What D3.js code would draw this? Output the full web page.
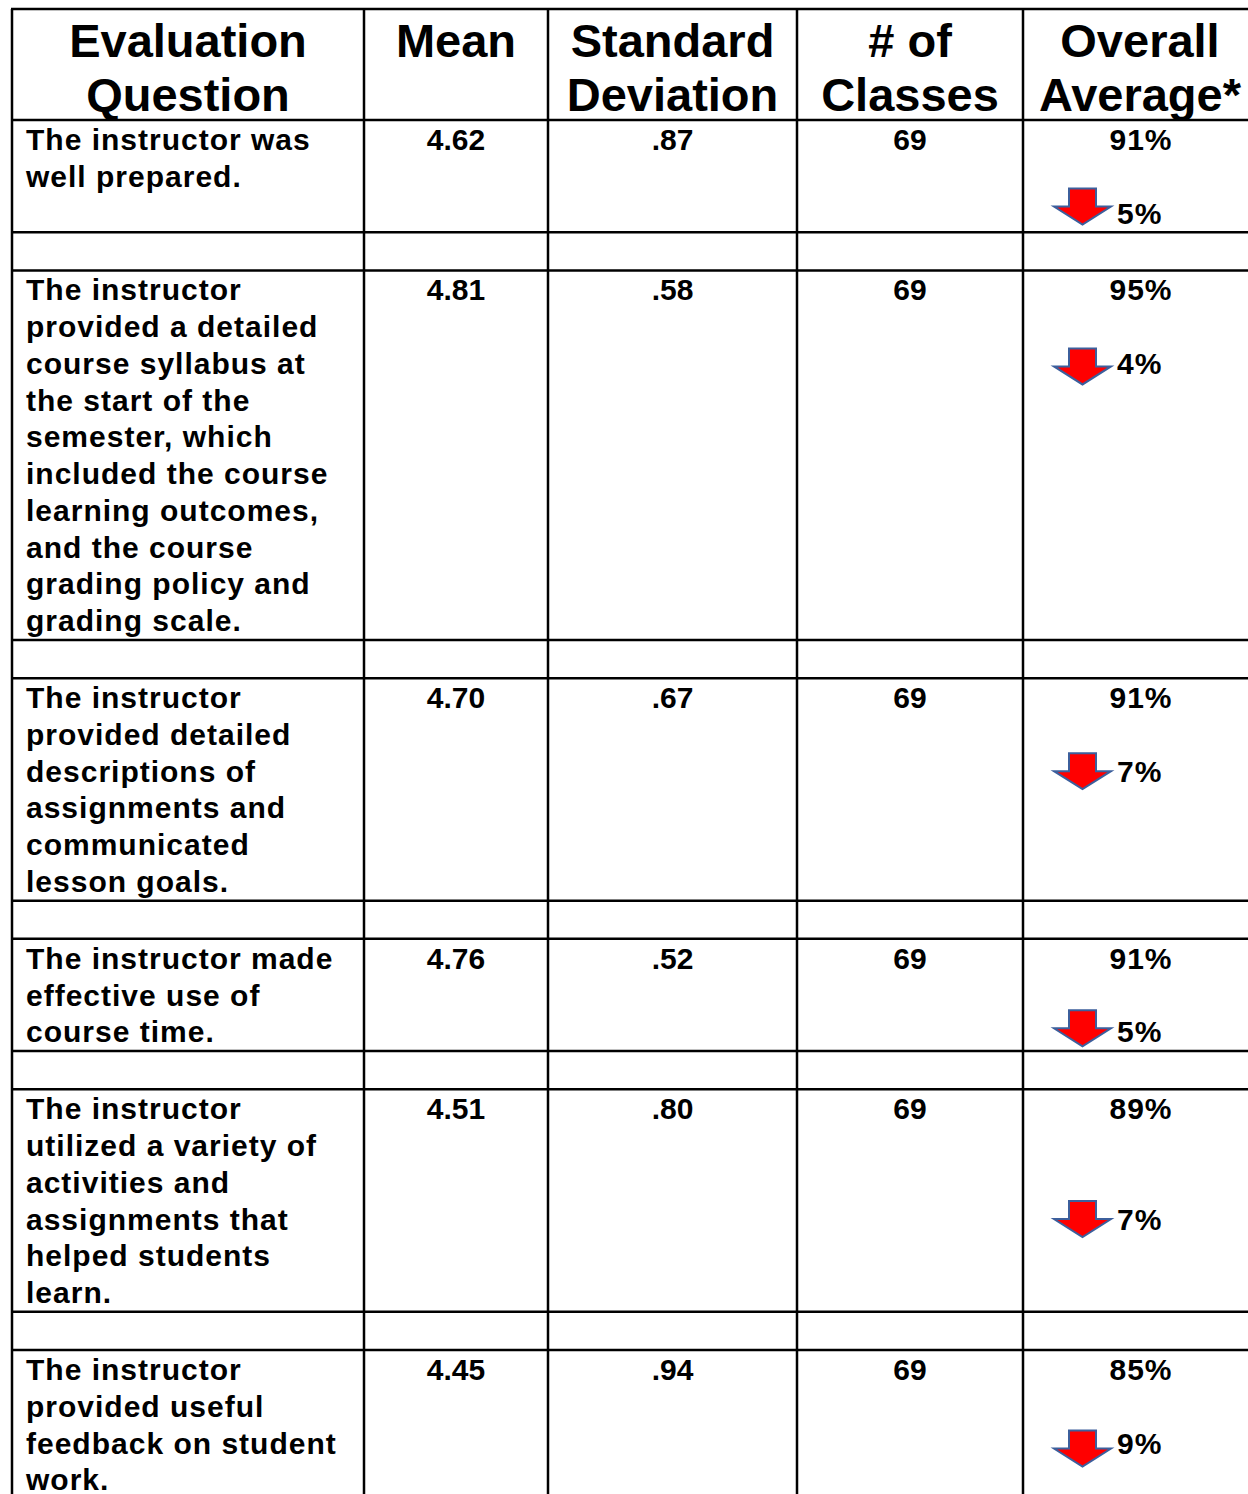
<!DOCTYPE html>
<html>
<head>
<meta charset="utf-8">
<script src="https://cdn.jsdelivr.net/npm/d3@7"></script>
<style>
  html, body { margin: 0; padding: 0; background: #fff; overflow: hidden; }
  svg { display: block; }
  text { font-family: "Liberation Sans", Arial, Helvetica, sans-serif; font-weight: bold; fill: #000; }
</style>
</head>
<body>
<script>
// ---- data ----
const headers = [
  ["Evaluation", "Question"],
  ["Mean"],
  ["Standard", "Deviation"],
  ["# of", "Classes"],
  ["Overall", "Average*"]
];
const questions = [
  ["The instructor was", "well prepared."],
  ["The instructor", "provided a detailed", "course syllabus at", "the start of the", "semester, which", "included the course", "learning outcomes,", "and the course", "grading policy and", "grading scale."],
  ["The instructor", "provided detailed", "descriptions of", "assignments and", "communicated", "lesson goals."],
  ["The instructor made", "effective use of", "course time."],
  ["The instructor", "utilized a variety of", "activities and", "assignments that", "helped students", "learn."],
  ["The instructor", "provided useful", "feedback on student", "work."]
];
const means = ["4.62", "4.81", "4.70", "4.76", "4.51", "4.45"];
const stdDevs = [".87", ".58", ".67", ".52", ".80", ".94"];
const classes = ["69", "69", "69", "69", "69", "69"];
const overall = ["91%", "95%", "91%", "91%", "89%", "85%"];
const decreases = ["5%", "4%", "7%", "5%", "7%", "9%"];

// ---- layout (not data) ----
const changeLine = [2, 2, 2, 2, 3, 2];          // line index of the arrow within the last column
const arrowShift = [-6.5, 3, 0, -3.5, 0, 5.5];   // vertical nudge of each arrow vs its text
const W = 1248, H = 1494;
const colEdges = [12, 364, 548, 797, 1023, 1257];
const tableTop = 9, headerBottom = 120;
const lineH = 36.75, rowPad = 2, spacerH = 38.2;
const bodySize = 30, headSize = 47;

const svg = d3.select("body").append("svg").attr("width", W).attr("height", H);

const colX = d3.scaleLinear().domain(d3.range(colEdges.length)).range(colEdges);
const colCenter = i => (colX(i) + colX(i + 1)) / 2;

// row geometry
const rows = [];
let y = headerBottom;
questions.forEach((q, i) => {
  const n = Math.max(q.length, changeLine[i] + 1);
  const h = n * lineH + rowPad;
  rows.push({ i, top: y, bottom: y + h });
  y += h;
  rows.push({ spacer: true, top: y, bottom: y + spacerH });
  y += spacerH;
});

const g = svg.append("g");

// header
headers.forEach((lines, c) => {
  lines.forEach((t, k) => {
    g.append("text")
      .attr("x", colCenter(c))
      .attr("y", 57 + k * 54)
      .attr("text-anchor", "middle")
      .attr("font-size", headSize)
      .text(t);
  });
});

// body
rows.filter(r => !r.spacer).forEach(r => {
  const i = r.i;
  const base = r.top + 30;
  questions[i].forEach((t, k) => {
    g.append("text").attr("x", 26).attr("y", base + k * lineH)
      .attr("font-size", bodySize).attr("letter-spacing", 1).text(t);
  });
  [means, stdDevs, classes].forEach((arr, c) => {
    g.append("text").attr("x", colCenter(c + 1)).attr("y", base)
      .attr("text-anchor", "middle").attr("font-size", bodySize).text(arr[i]);
  });
  g.append("text").attr("x", colCenter(4) + 1).attr("y", base)
    .attr("text-anchor", "middle").attr("font-size", bodySize)
    .attr("letter-spacing", 1).text(overall[i]);

  const cb = base + changeLine[i] * lineH;
  g.append("text").attr("x", 1117).attr("y", cb)
    .attr("font-size", bodySize).attr("letter-spacing", 1).text(decreases[i]);

  // down arrow
  const cy = cb - 10.5 + arrowShift[i];
  const x0 = 1054, w = 57, sh0 = 15, sh1 = 42, hh = 36;
  const t0 = cy - hh / 2;
  const path = d3.path();
  path.moveTo(x0 + sh0, t0);
  path.lineTo(x0 + sh1, t0);
  path.lineTo(x0 + sh1, t0 + hh / 2);
  path.lineTo(x0 + w, t0 + hh / 2);
  path.lineTo(x0 + w / 2, t0 + hh);
  path.lineTo(x0, t0 + hh / 2);
  path.lineTo(x0 + sh0, t0 + hh / 2);
  path.closePath();
  g.append("path").attr("d", path.toString())
    .attr("fill", "#ff0000").attr("stroke", "#3c5f9c").attr("stroke-width", 2)
    .attr("stroke-linejoin", "miter");
});

// grid lines
const hLines = [tableTop, headerBottom].concat(rows.map(r => r.bottom));
g.selectAll("line.h").data(hLines).join("line").attr("class", "h")
  .attr("x1", colEdges[0] - 1).attr("x2", colEdges[colEdges.length - 1] + 1)
  .attr("y1", d => d).attr("y2", d => d)
  .attr("stroke", "#000").attr("stroke-width", 2.5);
g.selectAll("line.v").data(colEdges).join("line").attr("class", "v")
  .attr("x1", d => d).attr("x2", d => d)
  .attr("y1", tableTop).attr("y2", y)
  .attr("stroke", "#000").attr("stroke-width", 2.5);
</script>
</body>
</html>
